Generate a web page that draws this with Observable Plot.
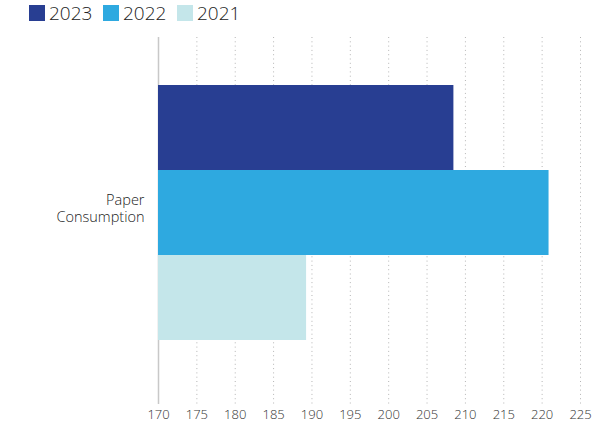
<!DOCTYPE html>
<html><head><meta charset="utf-8">
<script src="https://cdn.jsdelivr.net/npm/d3@7"></script>
<script src="https://cdn.jsdelivr.net/npm/@observablehq/plot@0.6"></script>
<style>
body{margin:0;background:#fff;font-family:"Open Sans","Noto Sans",sans-serif;}
#legend{height:28px;position:relative;}
.item{position:absolute;top:5px;display:flex;align-items:center;font-size:19px;font-weight:300;color:#222;line-height:16px;}
.sw{width:16px;height:16px;margin-right:4px;}
</style></head>
<body>
<div id="legend"></div>
<div id="chart"></div>
<script>
const category = "Paper Consumption";
const years = ["2023", "2022", "2021"];
const values = [208.5, 220.9, 189.3];
const colors = ["#283e92", "#2ea9e0", "#c4e6ea"];
const ticks = [170, 175, 180, 185, 190, 195, 200, 205, 210, 215, 220, 225];

const data = years.map((y, i) => ({year: y, value: values[i], category}));

const legend = document.getElementById("legend");
const lefts = [29, 103, 177];
years.forEach((y, i) => {
  const d = document.createElement("div");
  d.className = "item";
  d.style.left = lefts[i] + "px";
  d.innerHTML = `<div class="sw" style="background:${colors[i]}"></div><span>${y}</span>`;
  legend.appendChild(d);
});

const chart = Plot.plot({
  width: 592,
  height: 397,
  marginLeft: 158,
  marginRight: 12,
  marginTop: 9,
  marginBottom: 21,
  style: {fontFamily: "'Open Sans', 'Noto Sans', sans-serif", fontWeight: 300, background: "#fff"},
  x: {domain: [170, 225], axis: null},
  y: {domain: years, range: [57, 312], padding: 0, axis: null},
  color: {domain: years, range: colors},
  marks: [
    Plot.ruleX(ticks.slice(1), {stroke: "#b5b5b5", strokeDasharray: "1,3.3", strokeWidth: 1}),
    Plot.ruleX([170], {stroke: "#c8c8c8", strokeWidth: 1.5}),
    Plot.barX(data, {y: "year", x1: 170, x2: "value", fill: "year"}),
    Plot.text([category], {x: () => 170, y: () => "2022", text: () => "Paper\nConsumption", textAnchor: "end", dx: -14, dy: -5, fontSize: 14.5, fontWeight: 300, fill: "#222", lineHeight: 1.2}),
    Plot.axisX(ticks, {tickSize: 0, tickPadding: 5, fontSize: 13, fontWeight: 300, fill: "#333", label: null, tickFormat: d => String(d)})
  ]
});
document.getElementById("chart").appendChild(chart);
</script>
</body></html>
